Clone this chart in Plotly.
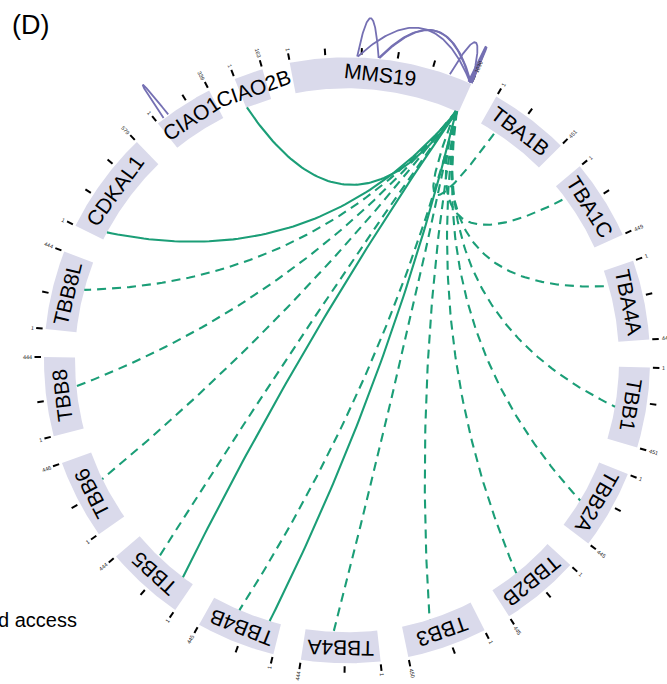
import numpy as np
import plotly.graph_objects as go

# ---------------- data ----------------
proteins = ["MMS19", "TBA1B", "TBA1C", "TBA4A", "TBB1", "TBB2A", "TBB2B", "TBB3",
            "TBB4A", "TBB4B", "TBB5", "TBB6", "TBB8", "TBB8L", "CDKAL1", "CIAO1", "CIAO2B"]
lengths = [1030, 451, 449, 448, 451, 445, 445, 450, 444, 445, 444, 446, 444, 444, 579, 339, 163]

# inter-protein crosslinks (MMS19 residue -> partner residue)
inter_src_res = [1022, 1018, 1020, 1016, 1012, 1018, 1015, 1014, 1020, 1012,
                 1016, 1014, 1018, 1010, 1016, 1012, 1008]
inter_partner = ["CIAO2B", "CDKAL1", "TBB8L", "TBB8", "TBB6", "TBB5", "TBB5", "TBB4B",
                 "TBB4B", "TBB4A", "TBB3", "TBB2B", "TBB2A", "TBB1", "TBA4A", "TBA1C", "TBA1B"]
inter_partner_res = [5, 50, 267, 265, 268, 75, 269, 72, 271, 270, 274, 264, 263, 248, 99, 95, 102]
inter_ambiguous = [False, False, True, True, True, False, True, False, True, True,
                   True, True, True, True, True, True, True]

# intra-protein crosslinks
intra_protein = ["MMS19", "MMS19", "MMS19", "MMS19", "MMS19", "MMS19", "MMS19", "MMS19", "CIAO1"]
intra_res1 = [376, 380, 495, 500, 900, 1010, 1016, 1020, 44]
intra_res2 = [495, 1020, 1022, 1026, 1030, 1030, 1028, 1030, 76]

panel_label = "(D)"
side_text = "d access"

# ---------------- styling / geometry ----------------
W, H = 667, 684
CX, CY = 347, 360.3
R_OUT, R_IN = 303, 272
GAP = 5.3
START = -10.9
BAND = "#dadaeb"
GREEN = "#1b9e77"
PURPLE = "#7570b3"
FONT = "Arial, Liberation Sans, sans-serif"

scale = (360 - len(proteins) * GAP) / sum(lengths)
starts = {}
a = START
for p, L in zip(proteins, lengths):
    starts[p] = a
    a += L * scale + GAP


def ang(p, res):
    return starts[p] + res * scale


def xy(theta, r):
    t = np.radians(theta)
    return r * np.sin(t), r * np.cos(t)


fig = go.Figure()

# bands
for p, L in zip(proteins, lengths):
    th = np.linspace(ang(p, 0), ang(p, L), 60)
    xo, yo = xy(th, R_OUT)
    xi, yi = xy(th[::-1], R_IN)
    fig.add_trace(go.Scatter(x=np.r_[xo, xi, xo[0]], y=np.r_[yo, yi, yo[0]], mode="lines",
                             fill="toself", fillcolor=BAND, line=dict(width=0, color=BAND),
                             hoverinfo="skip", showlegend=False))

# ticks
tx, ty = [], []
annotations = []
for p, L in zip(proteins, lengths):
    marks = [1] + [m for m in range(200, L, 200) if L - m > 60] + [L]
    for m in marks:
        th = ang(p, m)
        x0, y0 = xy(th, 306)
        x1, y1 = xy(th, 312.5)
        tx += [x0, x1, None]
        ty += [y0, y1, None]
    for m in (1, L):
        th = ang(p, m)
        s = str(m)
        r = 315 + 1.6 * len(s)
        x, y = xy(th, r)
        tn = th % 360
        rot = tn - 90 if tn < 180 else tn - 270
        annotations.append(dict(x=x, y=y, xref="x", yref="y", text=s, showarrow=False,
                                textangle=rot, font=dict(size=5.5, color="#222", family=FONT),
                                xanchor="center", yanchor="middle"))
fig.add_trace(go.Scatter(x=tx, y=ty, mode="lines", line=dict(color="black", width=2),
                         hoverinfo="skip", showlegend=False))

# inter links (inside)
t = np.linspace(0, 1, 80)[:, None]
for sr, pp, pr, amb in zip(inter_src_res, inter_partner, inter_partner_res, inter_ambiguous):
    t1 = ang("MMS19", sr)
    t2 = ang(pp, pr)
    d = (t2 - t1) % 360
    if d > 180:
        d -= 360
    bis = t1 + d / 2
    chord_mid = R_IN * np.cos(np.radians(abs(d) / 2))
    rc = 44 + 0.224 * chord_mid
    P0 = np.array(xy(t1, R_IN))
    P2 = np.array(xy(t2, R_IN))
    C = np.array(xy(bis, rc))
    B = (1 - t) ** 2 * P0 + 2 * t * (1 - t) * C + t ** 2 * P2
    fig.add_trace(go.Scatter(x=B[:, 0], y=B[:, 1], mode="lines",
                             line=dict(color=GREEN, width=2.1, dash="9px,6px" if amb else "solid"),
                             hoverinfo="skip", showlegend=False))

# intra links (outside)
for pp, r1, r2 in zip(intra_protein, intra_res1, intra_res2):
    t1 = ang(pp, r1)
    t2 = ang(pp, r2)
    bis = (t1 + t2) / 2
    P0 = np.array(xy(t1, R_OUT + 1))
    P2 = np.array(xy(t2, R_OUT + 1))
    C = np.array(xy(bis, 382))
    B = (1 - t) ** 2 * P0 + 2 * t * (1 - t) * C + t ** 2 * P2
    fig.add_trace(go.Scatter(x=B[:, 0], y=B[:, 1], mode="lines",
                             line=dict(color=PURPLE, width=1.8),
                             hoverinfo="skip", showlegend=False))

# protein labels
for p, L in zip(proteins, lengths):
    th = ang(p, L / 2)
    x, y = xy(th, (R_IN + R_OUT) / 2)
    rot = ((th + 180) % 360) - 180
    annotations.append(dict(x=x, y=y, xref="x", yref="y", text=p, showarrow=False,
                            textangle=rot, font=dict(size=21, color="black", family=FONT),
                            xanchor="center", yanchor="middle"))

annotations.append(dict(x=10 / W, y=1 - 25 / H, xref="paper", yref="paper", text=panel_label,
                        showarrow=False, xanchor="left", yanchor="middle",
                        font=dict(size=27, color="black", family=FONT)))
annotations.append(dict(x=79 / W, y=1 - 620 / H, xref="paper", yref="paper", text=side_text,
                        showarrow=False, xanchor="right", yanchor="middle",
                        font=dict(size=20, color="black", family=FONT)))

fig.update_layout(
    width=W, height=H, margin=dict(l=0, r=0, t=0, b=0),
    paper_bgcolor="white", plot_bgcolor="white",
    xaxis=dict(range=[-CX, W - CX], visible=False, fixedrange=True),
    yaxis=dict(range=[-(H - CY), CY], visible=False, fixedrange=True),
    annotations=annotations, showlegend=False,
)
fig.write_html("out.html", config={"displayModeBar": False},
               post_script="document.body.style.margin='0px';")
